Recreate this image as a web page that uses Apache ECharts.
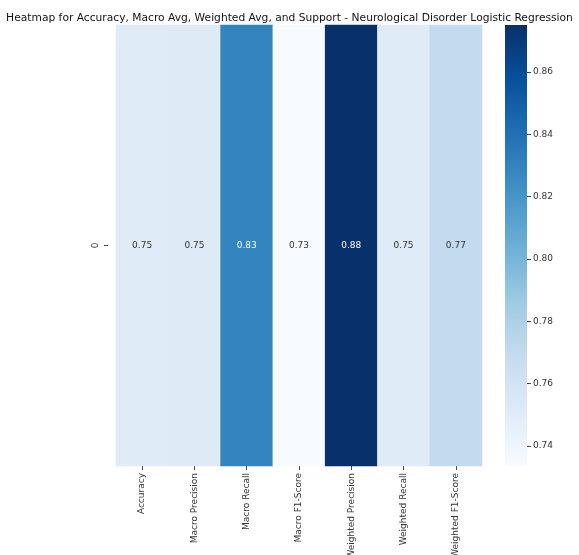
<!DOCTYPE html>
<html>
<head>
<meta charset="utf-8">
<script src="https://cdn.jsdelivr.net/npm/echarts@6/dist/echarts.min.js"></script>
<style>html,body{margin:0;padding:0;background:#fff}#c{width:579px;height:555px}</style>
</head>
<body>
<div id="c"></div>
<script>
const titleText = 'Heatmap for Accuracy, Macro Avg, Weighted Avg, and Support - Neurological Disorder Logistic Regression';
const categories = ['Accuracy', 'Macro Precision', 'Macro Recall', 'Macro F1-Score', 'Weighted Precision', 'Weighted Recall', 'Weighted F1-Score'];
const rowLabels = ['0'];
const values = [0.7505, 0.7512, 0.8300, 0.7336, 0.8751, 0.7505, 0.7700];
const colorbarTicks = [0.74, 0.76, 0.78, 0.80, 0.82, 0.84, 0.86];
const blues = ['#f7fbff', '#deebf7', '#c6dbef', '#9ecae1', '#6baed6', '#4292c6', '#2171b5', '#08519c', '#08306b'];

const vMin = Math.min(...values);
const vMax = Math.max(...values);
const font = 'DejaVu Sans';

const heatData = values.map((v, i) => {
  const t = (v - vMin) / (vMax - vMin);
  return { value: [i, 0, v], label: { color: t > 0.6 ? '#ffffff' : '#333333' } };
});

const chart = echarts.init(document.getElementById('c'), null, { renderer: 'canvas' });
chart.setOption({
  backgroundColor: '#ffffff',
  animation: false,
  title: {
    text: titleText, left: 'center', top: 8,
    textStyle: { fontFamily: font, fontSize: 10.7, fontWeight: 'normal', color: '#111' }
  },
  grid: [
    { left: 116, top: 25, width: 366, height: 441, outerBoundsMode: 'none', containLabel: false },
    { left: 505, top: 25, width: 22, height: 441, outerBoundsMode: 'none', containLabel: false }
  ],
  xAxis: [
    {
      type: 'category', gridIndex: 0, data: categories,
      axisLine: { show: false },
      axisTick: { show: true, alignWithLabel: true, length: 4, lineStyle: { color: '#444' } },
      axisLabel: { rotate: 90, fontFamily: font, fontSize: 9, color: '#333', margin: 7 },
      splitLine: { show: false }
    },
    { type: 'category', gridIndex: 1, data: ['cb'], show: false }
  ],
  yAxis: [
    {
      type: 'category', gridIndex: 0, data: rowLabels, offset: 8,
      axisLine: { show: false },
      axisTick: { show: true, alignWithLabel: true, length: 4, lineStyle: { color: '#444' } },
      axisLabel: { rotate: 90, fontFamily: font, fontSize: 9, color: '#333', margin: 8 },
      splitLine: { show: false }
    },
    {
      type: 'value', gridIndex: 1, position: 'right', min: vMin, max: vMax,
      axisLine: { show: false },
      splitLine: { show: false },
      axisTick: { show: true, length: 4, customValues: colorbarTicks, lineStyle: { color: '#444' } },
      axisLabel: { fontFamily: font, fontSize: 9, color: '#333', margin: 6, customValues: colorbarTicks, formatter: v => v.toFixed(2) }
    }
  ],
  visualMap: {
    show: false, type: 'continuous', min: vMin, max: vMax, seriesIndex: 0, dimension: 2,
    inRange: { color: blues }
  },
  series: [
    {
      type: 'heatmap', xAxisIndex: 0, yAxisIndex: 0, data: heatData,
      label: { show: true, fontFamily: font, fontSize: 9, formatter: p => p.value[2].toFixed(2) },
      itemStyle: { borderWidth: 0 },
      emphasis: { disabled: true }
    },
    {
      type: 'bar', xAxisIndex: 1, yAxisIndex: 1, stack: 'cb', barWidth: '100%',
      data: [vMin], itemStyle: { color: 'rgba(0,0,0,0)' }, silent: true
    },
    {
      type: 'bar', xAxisIndex: 1, yAxisIndex: 1, stack: 'cb', barWidth: '100%',
      data: [vMax - vMin], silent: true,
      itemStyle: {
        color: new echarts.graphic.LinearGradient(0, 1, 0, 0,
          blues.map((c, i) => ({ offset: i / (blues.length - 1), color: c })))
      }
    }
  ]
});
</script>
</body>
</html>
